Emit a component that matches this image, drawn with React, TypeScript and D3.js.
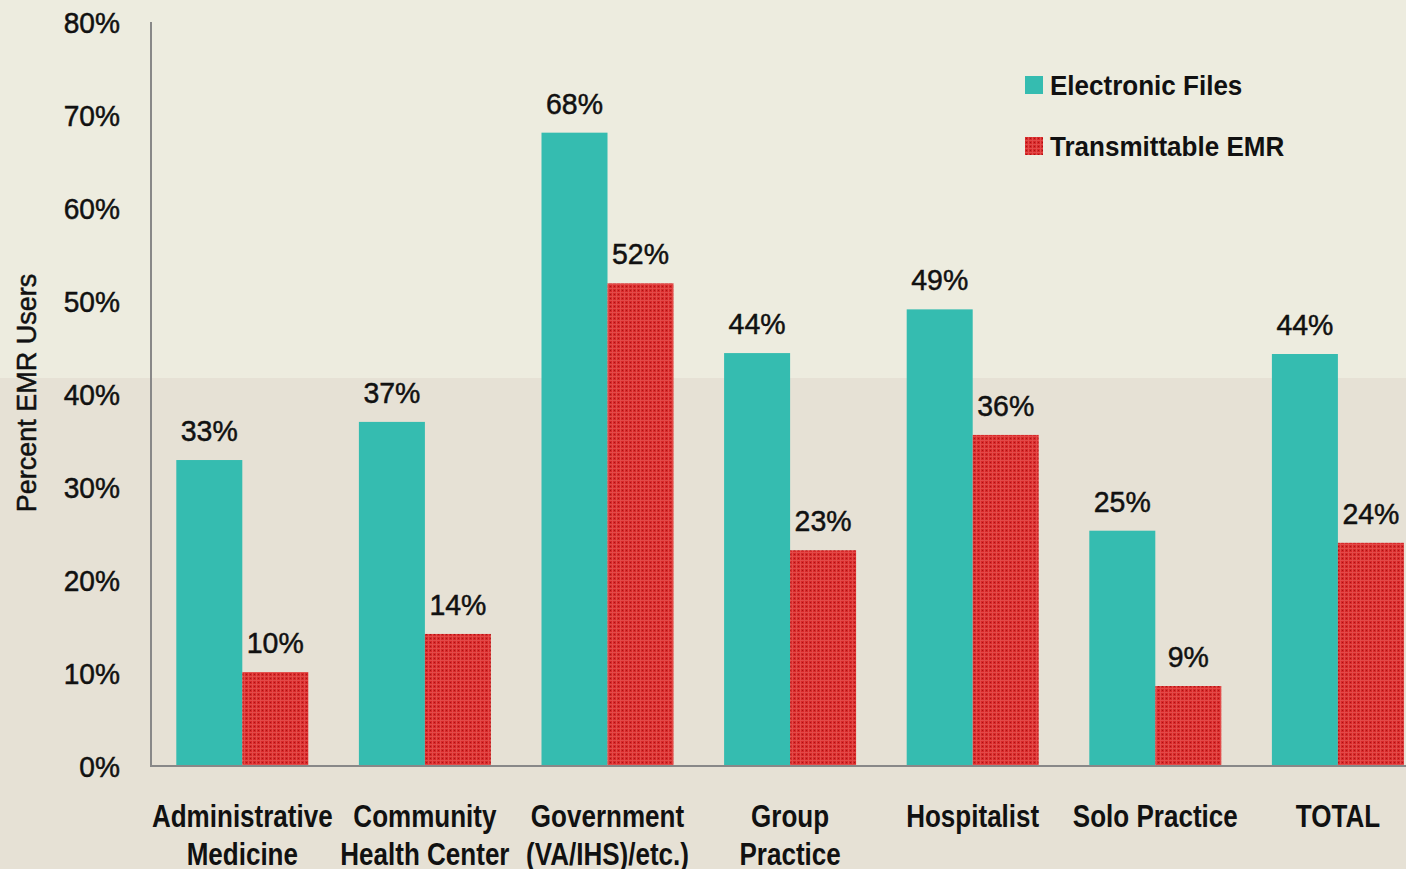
import React from "react";
import * as d3 from "d3";

const categories: string[][] = [
  ["Administrative", "Medicine"],
  ["Community", "Health Center"],
  ["Government", "(VA/IHS)/etc.)"],
  ["Group", "Practice"],
  ["Hospitalist"],
  ["Solo Practice"],
  ["TOTAL"],
];
const electronicFiles = [32.9, 37.0, 68.1, 44.4, 49.1, 25.3, 44.3];
const transmittableEMR = [10.1, 14.2, 51.9, 23.2, 35.6, 8.6, 24.0];
const yTicks = [0, 10, 20, 30, 40, 50, 60, 70, 80];
const seriesNames = ["Electronic Files", "Transmittable EMR"];

const W = 1406;
const H = 869;
const FONT = "'Liberation Sans', Arial, 'DejaVu Sans', sans-serif";
const TEAL = "#35BCB0";

type TProps = {
  x: number;
  y: number;
  sx?: number;
  size: number;
  weight?: string | number;
  anchor?: "start" | "middle" | "end";
  rotate?: number;
  thick?: number;
  children: React.ReactNode;
};

function T({ x, y, sx = 1, size, weight = "normal", anchor = "start", rotate = 0, thick = 0, children }: TProps) {
  return (
    <text
      transform={`translate(${x},${y}) rotate(${rotate}) scale(${sx},1)`}
      textAnchor={anchor}
      fontSize={size}
      fontWeight={weight}
      fill="#111"
      stroke={thick ? "#111" : "none"}
      strokeWidth={thick}
    >
      {children}
    </text>
  );
}

export default function App() {
  const x0 = 151;
  const band = 182.6;
  const x = d3
    .scaleBand<number>()
    .domain(categories.map((_, i) => i))
    .range([x0, x0 + band * categories.length])
    .paddingInner(0)
    .paddingOuter(0);
  const y = d3.scaleLinear().domain([0, 80]).range([766, 22]);
  const barW = 66;

  return (
    <svg
      width={W}
      height={H}
      style={{ position: "absolute", left: 0, top: 0, display: "block" }}
      fontFamily={FONT}
    >
      <defs>
        <pattern id="redpat" width="4" height="4" patternUnits="userSpaceOnUse">
          <rect width="4" height="4" fill="#D8292A" />
          <rect x="0" y="0" width="4" height="1" fill="#E24A48" />
          <rect x="0" y="0" width="1" height="4" fill="#E24A48" />
          <rect x="2" y="2" width="1" height="1" fill="#A81414" />
        </pattern>
      </defs>
      <rect x={0} y={0} width={W} height={378} fill="#EDECDF" />
      <rect x={0} y={378} width={W} height={H - 378} fill="#E6E1D5" />

      {/* y tick labels */}
      {yTicks.map((t) => (
        <T key={t} x={120} y={y(t) + 10.5} size={29} sx={0.97} anchor="end" thick={0.5}>
          {t}%
        </T>
      ))}

      {/* y axis title */}
      <T x={36} y={393} size={27} rotate={-90} anchor="middle" thick={0.5}>
        Percent EMR Users
      </T>

      {/* bars */}
      {categories.map((_, i) => {
        const c = (x(i) as number) + x.bandwidth() / 2;
        const ef = electronicFiles[i];
        const te = transmittableEMR[i];
        return (
          <g key={i}>
            <rect x={c - barW} y={y(ef)} width={barW} height={y(0) - y(ef)} fill={TEAL} />
            <rect x={c} y={y(te)} width={barW} height={y(0) - y(te)} fill="url(#redpat)" />
            <T x={c - barW / 2} y={y(ef) - 19} size={30} sx={0.95} anchor="middle" thick={0.5}>
              {Math.round(ef)}%
            </T>
            <T x={c + barW / 2} y={y(te) - 19} size={30} sx={0.95} anchor="middle" thick={0.5}>
              {Math.round(te)}%
            </T>
          </g>
        );
      })}

      {/* axes */}
      <line x1={151} x2={151} y1={22} y2={767} stroke="#888" strokeWidth={2} />
      <line x1={150} x2={W} y1={766} y2={766} stroke="#888" strokeWidth={2} />

      {/* category labels */}
      {categories.map((lines, i) => {
        const c = (x(i) as number) + x.bandwidth() / 2;
        return (
          <g key={i}>
            {lines.map((l, j) => (
              <T key={j} x={c} y={827 + j * 38} size={31} sx={0.84} weight="bold" anchor="middle">
                {l}
              </T>
            ))}
          </g>
        );
      })}

      {/* legend */}
      {seriesNames.map((n, i) => (
        <g key={n}>
          <rect x={1025} y={76 + i * 61} width={18} height={18} fill={i === 0 ? TEAL : "url(#redpat)"} />
          <T x={1050} y={95 + i * 61} size={28} sx={0.93} weight="bold">
            {n}
          </T>
        </g>
      ))}
    </svg>
  );
}
